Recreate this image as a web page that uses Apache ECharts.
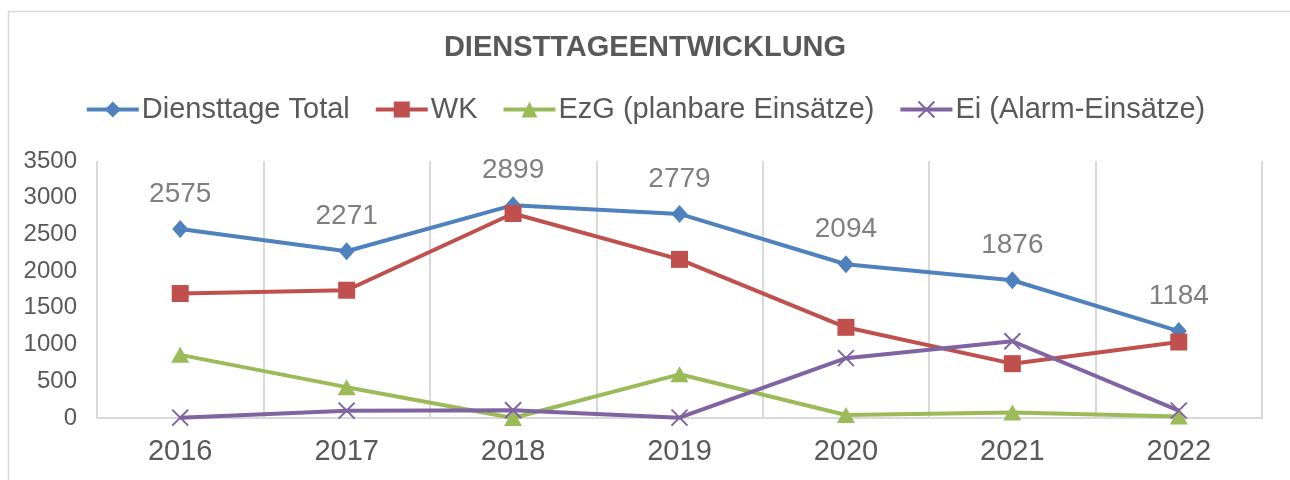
<!DOCTYPE html>
<html>
<head>
<meta charset="utf-8">
<script src="https://cdn.jsdelivr.net/npm/echarts@6/dist/echarts.min.js"></script>
<style>
  html, body { margin: 0; padding: 0; background: #fff; }
  #chart { width: 1290px; height: 480px; }
</style>
</head>
<body>
<div id="chart"></div>
<script>
  // values
  var years = ['2016', '2017', '2018', '2019', '2020', '2021', '2022']
  var total = [2575, 2271, 2899, 2779, 2094, 1876, 1184]
  var wk = [1695, 1740, 2785, 2160, 1235, 740, 1035]
  var ezg = [860, 420, 0, 595, 40, 75, 20]
  var ei = [5, 100, 105, 5, 815, 1045, 100]

  var font = 'Liberation Sans, Arial, sans-serif'
  var textColor = '#595959'
  var gridColor = '#d9d9d9'

  var chart = echarts.init(document.getElementById('chart'))

  function lineSeries (name, data, color, symbol, size) {
    return {
      name: name,
      type: 'line',
      data: data,
      symbol: symbol,
      symbolSize: size,
      showAllSymbol: true,
      lineStyle: {color: color, width: 4},
      itemStyle: {color: color}
    }
  }

  var seriesTotal = lineSeries('Diensttage Total', total, '#4f81bd', 'diamond', [16, 18])
  seriesTotal.label = {
    show: true,
    position: 'top',
    distance: 12,
    color: '#7f7f7f',
    fontSize: 28,
    fontFamily: font
  }
  var seriesWk = lineSeries('WK', wk, '#c0504d', 'rect', 17)
  var seriesEzg = lineSeries('EzG (planbare Einsätze)', ezg, '#9bbb59', 'triangle', [18, 16])
  var seriesEi = lineSeries('Ei (Alarm-Einsätze)', ei, '#8064a2', 'path://M0,0L10,10M10,0L0,10', 16)
  seriesEi.itemStyle = {color: 'none', borderColor: '#8064a2', borderWidth: 2}

  var option = {
    animation: false,
    backgroundColor: '#fff',
    textStyle: {fontFamily: font},
    graphic: [{
      type: 'rect',
      left: 6,
      top: 9,
      shape: {width: 1300, height: 500},
      style: {fill: 'none', stroke: gridColor, lineWidth: 1.5},
      silent: true
    }],
    title: {
      text: 'DIENSTTAGEENTWICKLUNG',
      left: 'center',
      top: 33,
      padding: 0,
      textStyle: {
        color: textColor,
        fontSize: 29,
        fontWeight: 'bold',
        fontFamily: font,
        letterSpacing: 4
      }
    },
    legend: {
      top: 90,
      left: 'center',
      itemWidth: 52,
      itemHeight: 20,
      itemGap: 24,
      lineStyle: {width: 4},
      textStyle: {color: textColor, fontSize: 29, fontFamily: font, padding: [0, 0, 0, -2]},
      data: ['Diensttage Total', 'WK', 'EzG (planbare Einsätze)', 'Ei (Alarm-Einsätze)']
    },
    grid: {
      left: 97,
      right: 28,
      top: 161,
      bottom: 62,
      containLabel: false
    },
    xAxis: {
      type: 'category',
      data: years,
      boundaryGap: true,
      axisLine: {lineStyle: {color: gridColor, width: 2}},
      axisTick: {show: false},
      splitLine: {show: true, lineStyle: {color: gridColor, width: 2}},
      axisLabel: {color: textColor, fontSize: 29, margin: 19, fontFamily: font, letterSpacing: 3}
    },
    yAxis: {
      type: 'value',
      min: 0,
      max: 3500,
      interval: 500,
      axisLine: {show: false},
      axisTick: {show: false},
      splitLine: {show: false},
      axisLabel: {
        color: textColor,
        fontSize: 24,
        margin: 20,
        fontFamily: font,
        formatter: function (v) { return String(v) }
      }
    },
    series: [seriesTotal, seriesWk, seriesEzg, seriesEi]
  }
  chart.setOption(option)
</script>
</body>
</html>
